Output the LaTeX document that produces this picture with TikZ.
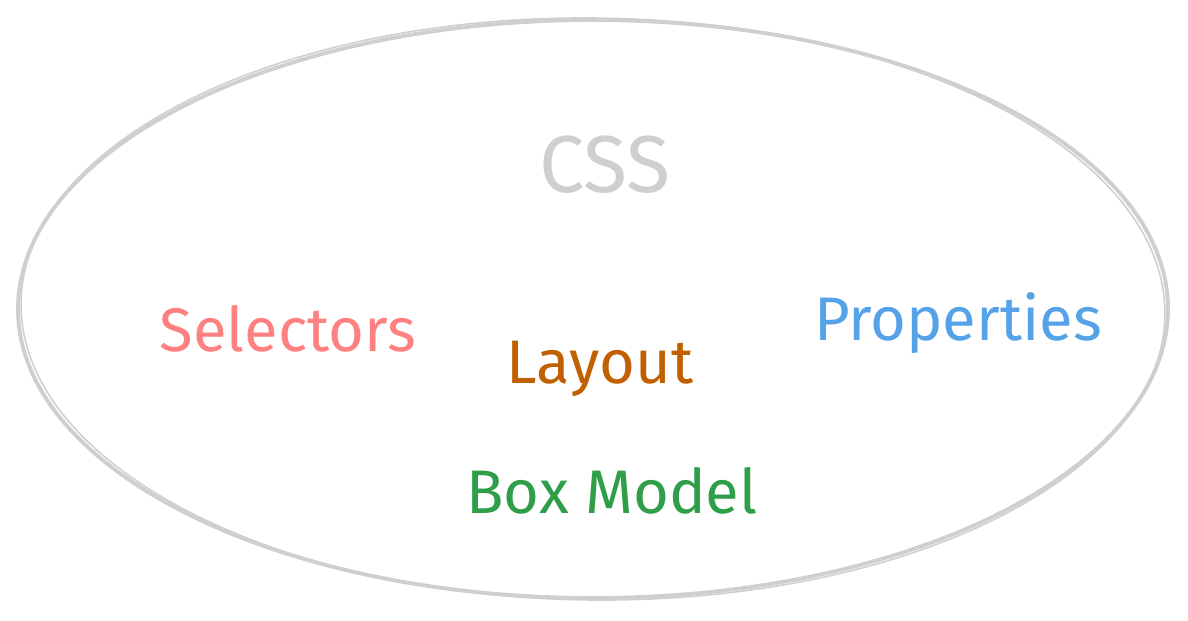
\documentclass[tikz,border=0pt]{standalone}
\usepackage{fontspec}
\setmainfont{Fira Sans}
\usepackage{tikz}
\usetikzlibrary{positioning}

\definecolor{outline}{HTML}{CFCFCF}
\definecolor{selred}{HTML}{FF8080}
\definecolor{laybrown}{HTML}{C06000}
\definecolor{propblue}{HTML}{55A2E8}
\definecolor{boxgreen}{HTML}{2F9E48}

\tikzset{
    topic/.style={anchor=base,font=\fontsize{35}{41}\selectfont},
}

\begin{document}
\begin{tikzpicture}[x=0.02cm,y=-0.02cm,line cap=round,line join=round]

        % --- Canvas ---
        \useasboundingbox (0,0) rectangle (1188,620);

        % --- Variables ---
        \coordinate (centre) at (593,309);
        \def\Rx{575}
        \def\Ry{289}

        % Sketchy outline
        \draw[outline,line width=2.2pt] (centre) ellipse [x radius=\Rx,y radius=\Ry];
        \draw[outline,line width=0.9pt,rotate around={-0.6:(centre)}] (centre) ellipse [x radius=\Rx-3,y radius=\Ry+2];

        % Title
        \node[topic,font=\fontsize{46}{52}\selectfont,text=outline] (css) at (605,192) {CSS};

        % Topics inside
        \node[topic,text=selred] (selectors) at (288,351) {Selectors};
        \node[topic,text=laybrown] (layout) at (600,383) {Layout};
        \node[topic,text=propblue] (properties) at (958,340) {Properties};
        \node[topic,text=boxgreen] (boxmodel) at (612,513) {Box Model};

\end{tikzpicture}
\end{document}
